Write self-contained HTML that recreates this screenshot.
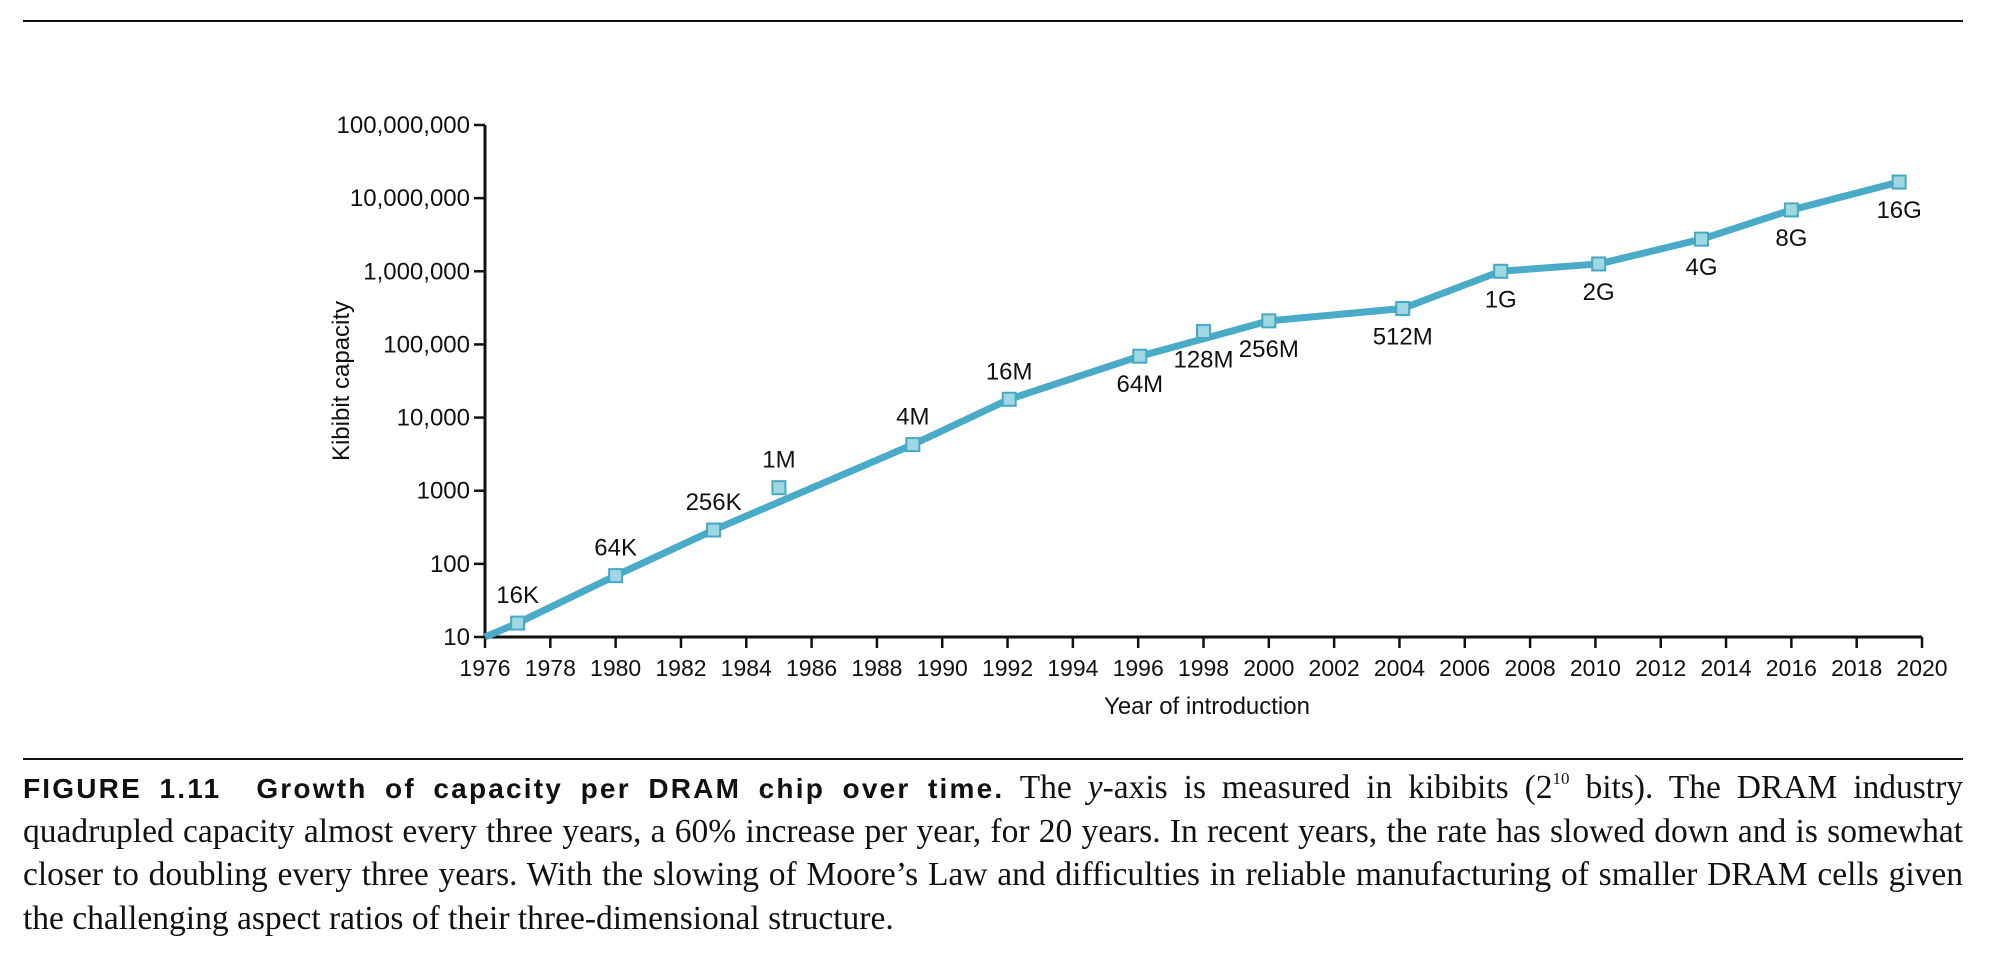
<!DOCTYPE html>
<html><head><meta charset="utf-8">
<style>
html,body{margin:0;padding:0;background:#fff;}
body{width:2016px;height:978px;position:relative;overflow:hidden;}
.rule{position:absolute;left:23px;width:1940px;height:2px;background:#111;}
#caption{position:absolute;left:23px;top:766px;width:1940px;font-family:"Liberation Serif",serif;font-size:33.5px;line-height:43.5px;color:#111;}
#caption .ln{display:block;white-space:nowrap;text-align:justify;text-align-last:justify;height:43.5px;overflow:visible;}
#caption .ln.last{text-align-last:left;}
#caption b{font-family:"Liberation Sans",sans-serif;font-weight:900;font-size:28px;letter-spacing:2.2px;}
#caption .sup{font-size:17px;position:relative;top:-14px;line-height:0;}
svg text{font-family:"Liberation Sans",sans-serif;fill:#111;}
</style></head>
<body>
<div class="rule" style="top:20px"></div>
<svg id="chart" width="2016" height="760" style="position:absolute;left:0;top:0">
<g id="axes"></g><g id="series"></g>
</svg>
<div class="rule" style="top:758px"></div>
<div id="caption">
<span class="ln"><b>FIGURE 1.11&nbsp; Growth of capacity per DRAM chip over time.</b> The <i>y</i>-axis is measured in kibibits (2<span class="sup">10</span> bits). The DRAM industry</span>
<span class="ln">quadrupled capacity almost every three years, a 60% increase per year, for 20 years. In recent years, the rate has slowed down and is somewhat</span>
<span class="ln">closer to doubling every three years. With the slowing of Moore’s Law and difficulties in reliable manufacturing of smaller DRAM cells given</span>
<span class="ln last">the challenging aspect ratios of their three-dimensional structure.</span>
</div>
<script>
const years = [1977,1980,1983,1985,1989.1,1992.05,1996.05,1998,2000,2004.1,2007.1,2010.1,2013.25,2016,2019.3];
const kibibits = [15.5,69,290,1100,4270,17800,69000,150000,210000,310000,1000000,1260000,2750000,6900000,16600000];
const chipLabels = ["16K","64K","256K","1M","4M","16M","64M","128M","256M","512M","1G","2G","4G","8G","16G"];
const labelAbove = [true,true,true,true,true,true,false,false,false,false,false,false,false,false,false];
const onLine = [true,true,true,false,true,true,true,false,true,true,true,true,true,true,true];
const xTicks = [1976,1978,1980,1982,1984,1986,1988,1990,1992,1994,1996,1998,2000,2002,2004,2006,2008,2010,2012,2014,2016,2018,2020];
const yTicks = [10,100,1000,10000,100000,1000000,10000000,100000000];
const yTickLabels = ["10","100","1000","10,000","100,000","1,000,000","10,000,000","100,000,000"];
const lineStart = [1976,10];

const NS="http://www.w3.org/2000/svg";
const X0=485,X1=1922,Y0=637,Y1=125;
function xs(y){return X0+(y-1976)/(2020-1976)*(X1-X0);}
function ys(v){return Y0-(Math.log10(v)-1)/7*(Y0-Y1);}
function mk(tag,attrs,parent,txt){const e=document.createElementNS(NS,tag);for(const k in attrs)e.setAttribute(k,attrs[k]);if(txt!==undefined)e.textContent=txt;parent.appendChild(e);return e;}
const axes=document.getElementById('axes'),ser=document.getElementById('series');

let e=mk('line',{x1:X0,y1:Y1,x2:X0,y2:Y0+1,stroke:'#111','stroke-width':3},axes);


e=mk('line',{x1:X0-1,y1:Y0,x2:X1,y2:Y0,stroke:'#111','stroke-width':3},axes);


yTicks.forEach((v,i)=>{
  const y=ys(v);
  mk('line',{x1:X0-11,y1:y,x2:X0,y2:y,stroke:'#111','stroke-width':2.5},axes);
  const t=mk('text',{x:X0-15,y:y+8,'text-anchor':'end','font-size':24},axes,yTickLabels[i]);
  
  
});
xTicks.forEach(yr=>{
  const x=xs(yr);
  mk('line',{x1:x,y1:Y0,x2:x,y2:Y0+11,stroke:'#111','stroke-width':2.5},axes);
  const t=mk('text',{x:x,y:676,'text-anchor':'middle','font-size':23},axes,String(yr));
  
  
});
e=mk('text',{x:1207,y:714,'text-anchor':'middle','font-size':24},axes,'Year of introduction');


e=mk('text',{x:0,y:0,'text-anchor':'middle','font-size':24,transform:'translate(349,381) rotate(-90)'},axes,'Kibibit capacity');



let pts=[[xs(lineStart[0]),ys(lineStart[1])]];
years.forEach((yr,i)=>{if(onLine[i])pts.push([xs(yr),ys(kibibits[i])]);});
e=mk('polyline',{points:pts.map(p=>p.join(',')).join(' '),fill:'none',stroke:'#4aabc8','stroke-width':7,'stroke-linejoin':'round'},ser);


years.forEach((yr,i)=>{
  const x=xs(yr),y=ys(kibibits[i]);
  const r=mk('rect',{x:x-6.5,y:y-6.5,width:13,height:13,fill:'#9fd7e3',stroke:'#45a8c4','stroke-width':2},ser);
  
  
  const ly=labelAbove[i]?y-20:y+36;
  const t=mk('text',{x:x,y:ly,'text-anchor':'middle','font-size':24},ser,chipLabels[i]);
  
  
});
</script>
</body></html>
